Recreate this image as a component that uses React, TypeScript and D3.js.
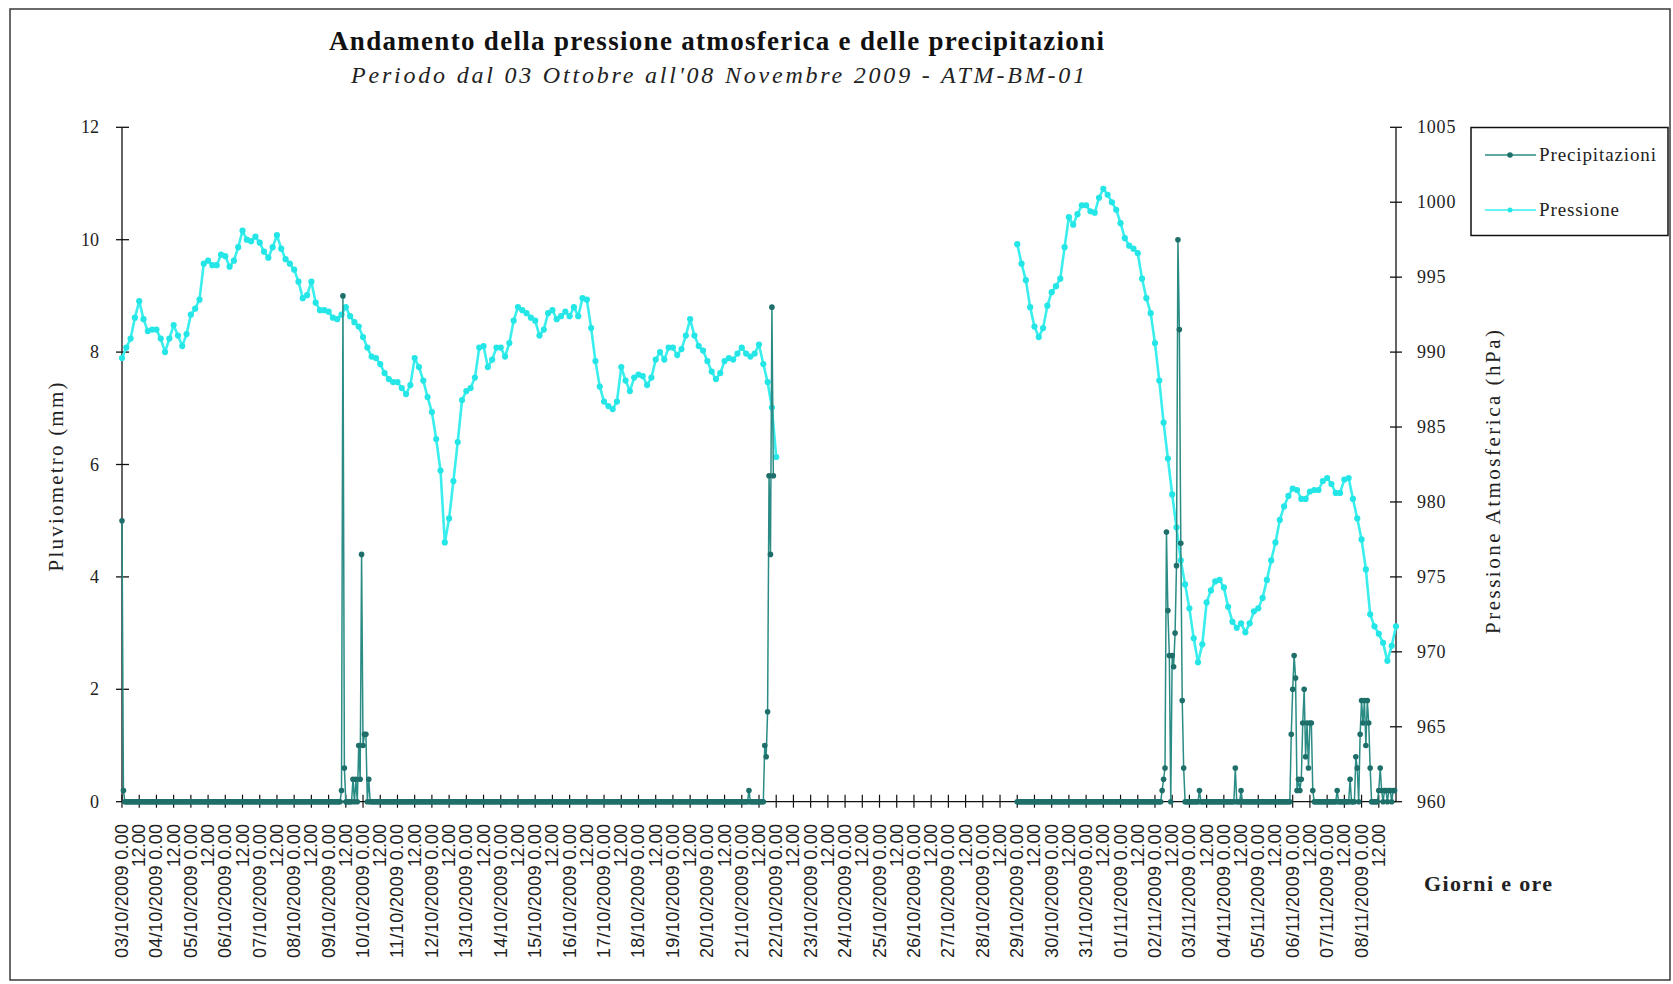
import React from "react";
import * as d3 from "d3";

// ---------- DATA ----------
const dayLabels = [
  "03/10/2009", "04/10/2009", "05/10/2009", "06/10/2009", "07/10/2009", "08/10/2009",
  "09/10/2009", "10/10/2009", "11/10/2009", "12/10/2009", "13/10/2009", "14/10/2009",
  "15/10/2009", "16/10/2009", "17/10/2009", "18/10/2009", "19/10/2009", "20/10/2009",
  "21/10/2009", "22/10/2009", "23/10/2009", "24/10/2009", "25/10/2009", "26/10/2009",
  "27/10/2009", "28/10/2009", "29/10/2009", "30/10/2009", "31/10/2009", "01/11/2009",
  "02/11/2009", "03/11/2009", "04/11/2009", "05/11/2009", "06/11/2009", "07/11/2009",
  "08/11/2009",
];
const midnightSuffix = " 0.00";
const noonLabel = "12.00";

const leftTicks = [0, 2, 4, 6, 8, 10, 12];
const rightTicks = [960, 965, 970, 975, 980, 985, 990, 995, 1000, 1005];

// hours counted from 03/10/2009 0.00 ; pressure read every 3 hours
const pressureStep = 3;
const pressureSeg1Start = 0;
const pressureSeg1 = [
  989.6, 990.3, 990.9, 992.3, 993.4, 992.2, 991.4, 991.5, 991.5, 990.9,
  990.0, 990.9, 991.8, 991.1, 990.4, 991.2, 992.5, 992.9, 993.5, 995.9,
  996.1, 995.8, 995.8, 996.5, 996.4, 995.7, 996.1, 997.0, 998.1, 997.5,
  997.4, 997.7, 997.3, 996.7, 996.3, 997.0, 997.8, 996.9, 996.2, 995.9,
  995.5, 994.7, 993.6, 993.8, 994.7, 993.3, 992.8, 992.8, 992.7, 992.3,
  992.2, 992.5, 993.0, 992.4, 992.0, 991.7, 991.0, 990.3, 989.7, 989.6,
  989.2, 988.6, 988.2, 988.0, 988.0, 987.6, 987.2, 987.8, 989.6, 989.0,
  988.1, 987.0, 986.0, 984.2, 982.1, 977.3, 978.9, 981.4, 984.0, 986.8,
  987.4, 987.6, 988.3, 990.3, 990.4, 989.0, 989.5, 990.3, 990.3, 989.7,
  990.6, 992.1, 993.0, 992.8, 992.6, 992.3, 992.1, 991.1, 991.5, 992.6,
  992.8, 992.2, 992.4, 992.7, 992.4, 993.0, 992.4, 993.6, 993.5, 991.6,
  989.4, 987.7, 986.7, 986.4, 986.2, 986.7, 989.0, 988.1, 987.4, 988.3,
  988.5, 988.4, 987.8, 988.3, 989.5, 990.0, 989.5, 990.3, 990.3, 989.8,
  990.2, 991.1, 992.2, 991.1, 990.4, 990.1, 989.4, 988.7, 988.2, 988.6,
  989.4, 989.6, 989.5, 989.9, 990.3, 989.9, 989.7, 989.9, 990.5, 989.2,
  988.0, 986.3, 983.0,
];
const pressureSeg2Start = 624;
const pressureSeg2 = [
  997.2, 995.9, 994.8, 993.0, 991.7, 991.0, 991.6, 993.1, 994.0, 994.4,
  994.9, 997.0, 999.0, 998.5, 999.2, 999.8, 999.8, 999.4, 999.3, 1000.3,
  1000.9, 1000.5, 1000.0, 999.5, 998.6, 997.6, 997.1, 996.9, 996.6, 994.9,
  993.6, 992.6, 990.6, 988.1, 985.3, 982.9, 980.5, 978.3, 976.1, 974.5,
  972.9, 970.9, 969.3, 970.5, 973.3, 974.1, 974.7, 974.8, 974.3, 973.0,
  972.0, 971.6, 971.9, 971.3, 971.9, 972.7, 972.9, 973.6, 974.8, 976.1,
  977.3, 978.8, 979.7, 980.4, 980.9, 980.8, 980.2, 980.2, 980.7, 980.8,
  980.8, 981.4, 981.6, 981.2, 980.6, 980.6, 981.5, 981.6, 980.2, 978.9,
  977.5, 975.5, 972.5, 971.7, 971.2, 970.6, 969.4, 970.4, 971.7,
];

// hourly precipitation: recorded hour ranges, all other hours read as 0
const precipRangeStarts = [0, 624];
const precipRangeEnds = [454, 887];
const precipHours = [
  0, 1, 153, 154, 155, 161, 163, 165, 166, 167, 168, 169, 170, 172,
  437, 448, 449, 450, 451, 452, 453, 454,
  725, 726, 727, 728, 729, 730, 732, 733, 734, 735, 736, 737, 738, 739, 740,
  751, 776, 780,
  815, 816, 817, 818, 819, 820, 821, 822, 823, 824, 825, 826, 827, 828, 829, 830,
  847, 856, 860, 861, 863, 864, 865, 866, 867, 868, 869, 870,
  876, 877, 878, 880, 881, 883, 884, 886, 887,
];
const precipValues = [
  5.0, 0.2, 0.2, 9.0, 0.6, 0.4, 0.4, 1.0, 0.4, 4.4, 1.0, 1.2, 1.2, 0.4,
  0.2, 1.0, 0.8, 1.6, 5.8, 4.4, 8.8, 5.8,
  0.2, 0.4, 0.6, 4.8, 3.4, 2.6, 2.6, 2.4, 3.0, 4.2, 10.0, 8.4, 4.6, 1.8, 0.6,
  0.2, 0.6, 0.2,
  1.2, 2.0, 2.6, 2.2, 0.2, 0.4, 0.2, 0.4, 1.4, 2.0, 0.8, 1.4, 0.6, 1.4, 1.4, 0.2,
  0.2, 0.4, 0.8, 0.6, 1.2, 1.8, 1.4, 1.8, 1.0, 1.8, 1.4, 0.6,
  0.2, 0.6, 0.2, 0.2, 0.2, 0.2, 0.2, 0.2, 0.2,
];

const seriesNames = ["Precipitazioni", "Pressione"];

// ---------- STYLE ----------
const PRECIP_LINE = "#2a8c85";
const PRECIP_MARK = "#1e6f6a";
const PRESS_LINE = "#3aeeee";
const PRESS_MARK = "#25e6e6";
const SERIF = "'Liberation Serif', 'Times New Roman', serif";
const SANS = "'Liberation Sans', Arial, sans-serif";

type Pt = { h: number; v: number };

export default function App() {
  const W = 1673;
  const H = 984;
  const x = d3.scaleLinear().domain([0, 888]).range([122, 1396]);
  const yL = d3.scaleLinear().domain([0, 12]).range([801.7, 127.3]);
  const yR = d3.scaleLinear().domain([960, 1005]).range([801.7, 127.3]);

  const pSeg = (start: number, vals: number[]): Pt[] =>
    vals.map((v, i) => ({ h: start + i * pressureStep, v }));
  const pressureSegs = [pSeg(pressureSeg1Start, pressureSeg1), pSeg(pressureSeg2Start, pressureSeg2)];

  const precipMap = new Map<number, number>();
  precipHours.forEach((h, i) => precipMap.set(h, precipValues[i]));
  const precipSegs: Pt[][] = precipRangeStarts.map((s, k) => {
    const out: Pt[] = [];
    for (let h = s; h <= precipRangeEnds[k]; h++) out.push({ h, v: precipMap.get(h) ?? 0 });
    return out;
  });

  const pressLine = d3.line<Pt>().x((d) => x(d.h)).y((d) => yR(d.v));
  const precLine = d3.line<Pt>().x((d) => x(d.h)).y((d) => yL(d.v));

  const ticks: { h: number; label: string; day: boolean }[] = [];
  dayLabels.forEach((d, i) => {
    ticks.push({ h: i * 24, label: d + midnightSuffix, day: true });
    ticks.push({ h: i * 24 + 12, label: noonLabel, day: false });
  });

  const axisY = yL(0);

  return (
    <svg
      width={W}
      height={H}
      style={{ position: "absolute", left: 0, top: 0, background: "#fff" }}
    >
      <rect x={0} y={0} width={W} height={H} fill="#fff" />
      <rect x={10} y={9} width={1660} height={971} fill="none" stroke="#3a3a3a" strokeWidth={1.5} />

      {/* Titles */}
      <text x={329} y={50} fontFamily={SERIF} fontWeight="bold" fontSize={27} textLength={775} lengthAdjust="spacing" fill="#111">
        Andamento della pressione atmosferica e delle precipitazioni
      </text>
      <text x={351} y={83} fontFamily={SERIF} fontStyle="italic" fontSize={24} textLength={734} lengthAdjust="spacing" fill="#222">
        Periodo dal 03 Ottobre all'08 Novembre 2009 - ATM-BM-01
      </text>

      {/* Left axis */}
      <line x1={122} x2={122} y1={yL(12)} y2={axisY} stroke="#111" strokeWidth={1.3} />
      {leftTicks.map((t) => (
        <g key={"l" + t}>
          <line x1={116} x2={129} y1={yL(t)} y2={yL(t)} stroke="#111" strokeWidth={1.3} />
          <text x={99} y={yL(t) + 6} textAnchor="end" fontFamily={SERIF} fontSize={18} fill="#222">
            {t}
          </text>
        </g>
      ))}
      <text
        transform={`translate(63,477) rotate(-90)`}
        textAnchor="middle"
        fontFamily={SERIF}
        fontSize={21}
        textLength={189}
        lengthAdjust="spacing"
        fill="#222"
      >
        Pluviometro (mm)
      </text>

      {/* Right axis */}
      <line x1={1396} x2={1396} y1={yR(1005)} y2={axisY} stroke="#111" strokeWidth={1.3} />
      {rightTicks.map((t) => (
        <g key={"r" + t}>
          <line x1={1390} x2={1402} y1={yR(t)} y2={yR(t)} stroke="#111" strokeWidth={1.3} />
          <text x={1417} y={yR(t) + 6} fontFamily={SERIF} fontSize={18} letterSpacing={0.8} fill="#222">
            {t}
          </text>
        </g>
      ))}
      <text
        transform={`translate(1500,482) rotate(-90)`}
        textAnchor="middle"
        fontFamily={SERIF}
        fontSize={21}
        textLength={304}
        lengthAdjust="spacing"
        fill="#222"
      >
        Pressione Atmosferica (hPa)
      </text>

      {/* X axis */}
      <line x1={122} x2={1396} y1={axisY} y2={axisY} stroke="#111" strokeWidth={1.3} />
      {ticks.map((t) => (
        <g key={"x" + t.h}>
          <line x1={x(t.h)} x2={x(t.h)} y1={axisY - 7} y2={axisY + 6} stroke="#111" strokeWidth={1.2} />
          <text
            transform={`translate(${x(t.h)},824) rotate(-90)`}
            textAnchor="end"
            dominantBaseline="central"
            fontFamily={SANS}
            fontSize={18}
            textLength={t.day ? 134 : 43}
            lengthAdjust="spacing"
            fill="#222"
          >
            {t.label}
          </text>
        </g>
      ))}
      <text x={1424} y={891} fontFamily={SERIF} fontWeight="bold" fontSize={22} textLength={128} lengthAdjust="spacing" fill="#222">
        Giorni e ore
      </text>

      {/* Pressure series */}
      {pressureSegs.map((seg, k) => (
        <g key={"ps" + k}>
          <path d={pressLine(seg) || ""} fill="none" stroke={PRESS_LINE} strokeWidth={2.6} strokeLinejoin="round" />
          {seg.map((d) => (
            <circle key={d.h} cx={x(d.h)} cy={yR(d.v)} r={3.1} fill={PRESS_MARK} />
          ))}
        </g>
      ))}

      {/* Precipitation series */}
      {precipSegs.map((seg, k) => (
        <g key={"pr" + k}>
          <path d={precLine(seg) || ""} fill="none" stroke={PRECIP_LINE} strokeWidth={1.5} />
          {seg.map((d) => (
            <circle key={d.h} cx={x(d.h)} cy={yL(d.v)} r={2.8} fill={PRECIP_MARK} />
          ))}
        </g>
      ))}

      {/* Legend */}
      <rect x={1471} y={127.5} width={197} height={108} fill="#fff" stroke="#111" strokeWidth={1.5} />
      <line x1={1485} x2={1536} y1={155} y2={155} stroke={PRECIP_LINE} strokeWidth={1.6} />
      <circle cx={1510} cy={155} r={2.8} fill={PRECIP_MARK} />
      <text x={1539} y={161} fontFamily={SERIF} fontSize={19} textLength={117} lengthAdjust="spacing" fill="#222">
        {seriesNames[0]}
      </text>
      <line x1={1485} x2={1536} y1={210} y2={210} stroke={PRESS_LINE} strokeWidth={1.6} />
      <circle cx={1510} cy={210} r={2.5} fill={PRESS_MARK} />
      <text x={1539} y={216} fontFamily={SERIF} fontSize={19} textLength={80} lengthAdjust="spacing" fill="#222">
        {seriesNames[1]}
      </text>
    </svg>
  );
}
